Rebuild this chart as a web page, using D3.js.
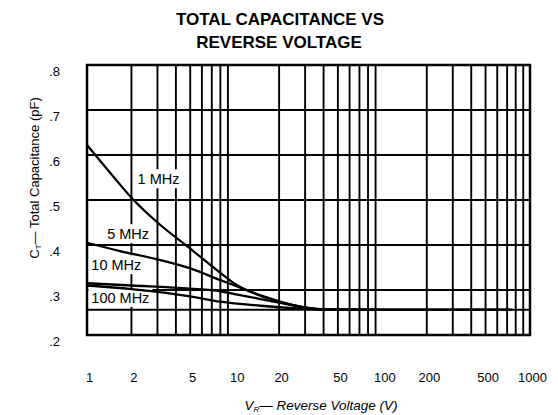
<!DOCTYPE html>
<html><head><meta charset="utf-8">
<script src="https://cdn.jsdelivr.net/npm/d3@7"></script>
<style>body{margin:0;background:#fff}svg{display:block}text{font-family:"Liberation Sans",Arial,sans-serif;fill:#000}</style>
</head><body><svg id="c" width="558" height="415"></svg>
<script>
// ---- data ----
const xTickLabels = [1, 2, 5, 10, 20, 50, 100, 200, 500, 1000];
const yTickLabels = [0.2, 0.3, 0.4, 0.5, 0.6, 0.7, 0.8];
const xGrid = [2,3,4,5,6,7,8,9,20,30,40,50,60,70,80,90,200,300,400,500,600,700,800,900];
const yGrid = [0.256, 0.3, 0.4, 0.5, 0.6, 0.7];
const seriesNames = ["1 MHz", "5 MHz", "10 MHz", "100 MHz"];
const curve1MHz = [[1,0.622],[1.5,0.553],[2,0.505],[3,0.45],[5,0.392],[8,0.338],[10,0.314],[15,0.287],[20,0.274],[30,0.261],[40,0.257],[100,0.256],[750,0.256]];
const curve5MHz = [[1,0.405],[1.7,0.386],[3,0.368],[5,0.348],[8,0.322],[10,0.31],[15,0.288],[20,0.275],[30,0.261],[40,0.257],[100,0.256],[750,0.256]];
const curve10MHz = [[1,0.315],[2,0.31],[5,0.303],[8,0.297],[10,0.291],[20,0.272],[30,0.261],[40,0.257],[100,0.256],[750,0.256]];
const curve100MHz = [[1,0.31],[2,0.302],[5,0.286],[8,0.274],[15,0.265],[30,0.258],[40,0.256],[100,0.256],[750,0.256]];
const labelPos = [[2.2,0.535],[1.37,0.413],[1.07,0.344],[1.07,0.271]]; // [V, C] left/baseline anchor of each label

const svg = d3.select("#c");
const x = d3.scaleLog().domain([1, 1000]).range([87, 530]);
const y = d3.scaleLinear().domain([0.2, 0.8]).range([335, 65]);

// grid
svg.append("g").selectAll("line").data(xGrid).join("line")
  .attr("x1", d => x(d)).attr("x2", d => x(d)).attr("y1", y(0.8)).attr("y2", y(0.2))
  .attr("stroke", "#000").attr("stroke-width", 1.9);
svg.append("g").selectAll("line").data(yGrid).join("line")
  .attr("x1", x(1)).attr("x2", x(1000)).attr("y1", d => y(d)).attr("y2", d => y(d))
  .attr("stroke", "#000").attr("stroke-width", 1.9);

// curve labels with white boxes (cover the grid, not the curves)
seriesNames.forEach((name, i) => {
  const g = svg.append("g");
  const t = g.append("text").attr("x", x(labelPos[i][0])).attr("y", y(labelPos[i][1]))
    .attr("font-size", 14.5).text(name);
  const b = t.node().getBBox();
  g.insert("rect", "text").attr("x", b.x - 3).attr("y", b.y - 2).attr("width", b.width + 6).attr("height", b.height + 3).attr("fill", "#fff");
});

svg.append("rect").attr("x", x(1)).attr("y", y(0.8)).attr("width", x(1000) - x(1)).attr("height", y(0.2) - y(0.8))
  .attr("fill", "none").attr("stroke", "#000").attr("stroke-width", 2.5);

// curves
const line = d3.line().x(d => x(d[0])).y(d => y(d[1])).curve(d3.curveMonotoneX);
const curves = [curve1MHz, curve5MHz, curve10MHz, curve100MHz];
svg.append("g").selectAll("path").data(curves).join("path")
  .attr("d", line).attr("fill", "none").attr("stroke", "#000").attr("stroke-width", 2.3);

// axes
const xAxis = svg.append("g").attr("transform", "translate(2,370)")
  .call(d3.axisBottom(x).tickValues(xTickLabels).tickSize(0).tickFormat(d3.format("d")));
xAxis.select(".domain").remove();
xAxis.selectAll("text").attr("font-size", 13).attr("font-family", '"Liberation Sans",Arial,sans-serif');

const yAxis = svg.append("g").attr("transform", "translate(63,6)")
  .call(d3.axisLeft(y).tickValues(yTickLabels).tickSize(0).tickFormat(d => d3.format(".1f")(d).replace(/^0/, "")));
yAxis.select(".domain").remove();
yAxis.selectAll("text").attr("font-size", 13).attr("font-family", '"Liberation Sans",Arial,sans-serif');

// titles
svg.append("text").attr("x", 280).attr("y", 25).attr("text-anchor", "middle")
  .attr("font-size", 17).attr("font-weight", "bold").text("TOTAL CAPACITANCE VS");
svg.append("text").attr("x", 279).attr("y", 48).attr("text-anchor", "middle")
  .attr("font-size", 17).attr("font-weight", "bold").text("REVERSE VOLTAGE");

const xt = svg.append("text").attr("x", 321).attr("y", 410).attr("text-anchor", "middle").attr("font-size", 13.5).attr("font-style", "italic");
xt.append("tspan").text("V");
xt.append("tspan").attr("font-size", 8).attr("dy", 2).text("R");
xt.append("tspan").attr("dy", -2).text("\u2014 Reverse Voltage (V)");

const yt = svg.append("text").attr("transform", "translate(39,178) rotate(-90)").attr("text-anchor", "middle").attr("font-size", 13);
yt.append("tspan").text("C");
yt.append("tspan").attr("font-size", 8).attr("dy", 2).text("T");
yt.append("tspan").attr("dy", -2).text("\u2014 Total Capacitance (pF)");
</script></body></html>
